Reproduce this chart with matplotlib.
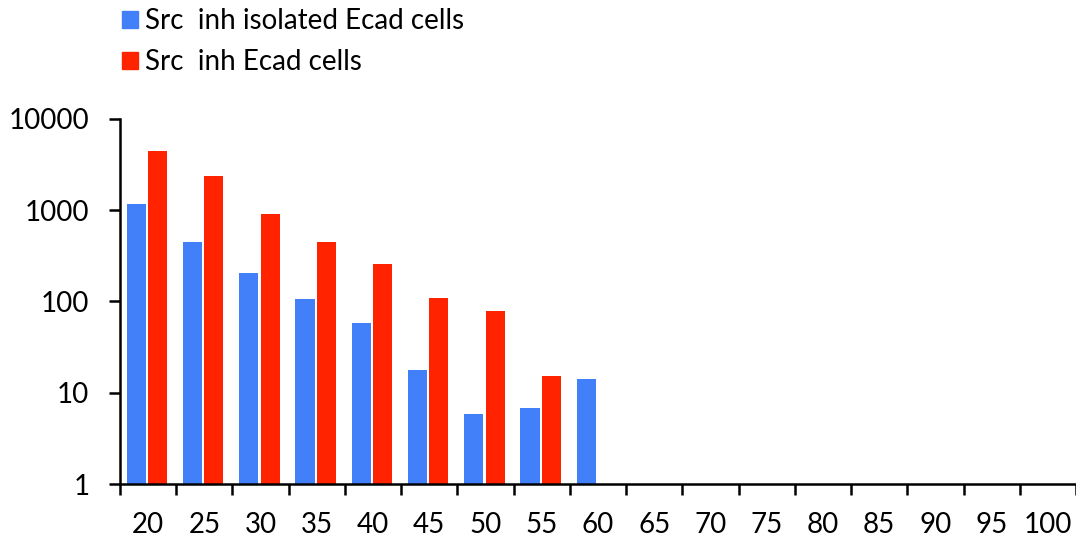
import matplotlib
matplotlib.use("Agg")
import matplotlib.pyplot as plt
import numpy as np
from matplotlib.patches import Patch

plt.rcParams['font.family'] = ['Lato', 'DejaVu Sans']

# datos
categorias = ["20", "25", "30", "35", "40", "45", "50", "55", "60",
              "65", "70", "75", "80", "85", "90", "95", "100"]
aisladas = [1175, 450, 205, 107, 58, 17.8, 5.8, 6.8, 14.2]
ecad = [4470, 2400, 910, 450, 258, 109, 79, 15.2]

azul = "#4180F9"
rojo = "#FF2300"

fig = plt.figure(figsize=(10.76, 5.42), dpi=100)
ax = fig.add_axes([0.1115, 0.107, 0.8885, 0.6735])

x = np.arange(len(categorias))
ancho = 0.34
ax.bar(x[:len(aisladas)] - 0.21, aisladas, width=ancho, color=azul, zorder=2)
ax.bar(x[:len(ecad)] + 0.17, ecad, width=ancho, color=rojo, zorder=2)

ax.set_yscale("log")
ax.set_ylim(1, 10000)
ax.set_xlim(-0.5, len(categorias) - 0.5)
ax.set_yticks([1, 10, 100, 1000, 10000])
ax.set_yticklabels(["1", "10", "100", "1000", "10000"])
ax.yaxis.set_minor_locator(matplotlib.ticker.NullLocator())

# marcas en los limites, etiquetas en el centro
ax.set_xticks(np.arange(len(categorias) + 1) - 0.5)
ax.set_xticklabels([])
ax.set_xticks(x, minor=True)
ax.set_xticklabels(categorias, minor=True)

ax.tick_params(axis="x", which="major", length=8, width=1.8, direction="out")
ax.tick_params(axis="x", which="minor", length=0, pad=20, labelsize=20)
ax.tick_params(axis="y", which="major", length=8, width=1.8, direction="out",
               pad=14, labelsize=20)

for lado in ["top", "right"]:
    ax.spines[lado].set_visible(False)
for lado in ["left", "bottom"]:
    ax.spines[lado].set_linewidth(1.8)

manijas = [Patch(color=azul), Patch(color=rojo)]
fig.legend(manijas, ["Src  inh isolated Ecad cells", "Src  inh Ecad cells"],
           loc="upper left", bbox_to_anchor=(0.1134, 0.985), frameon=False,
           fontsize=20, handlelength=0.58, handleheight=0.6,
           handletextpad=0.25, labelspacing=0.55, borderpad=0,
           borderaxespad=0)

fig.savefig("out.png", dpi=100)
